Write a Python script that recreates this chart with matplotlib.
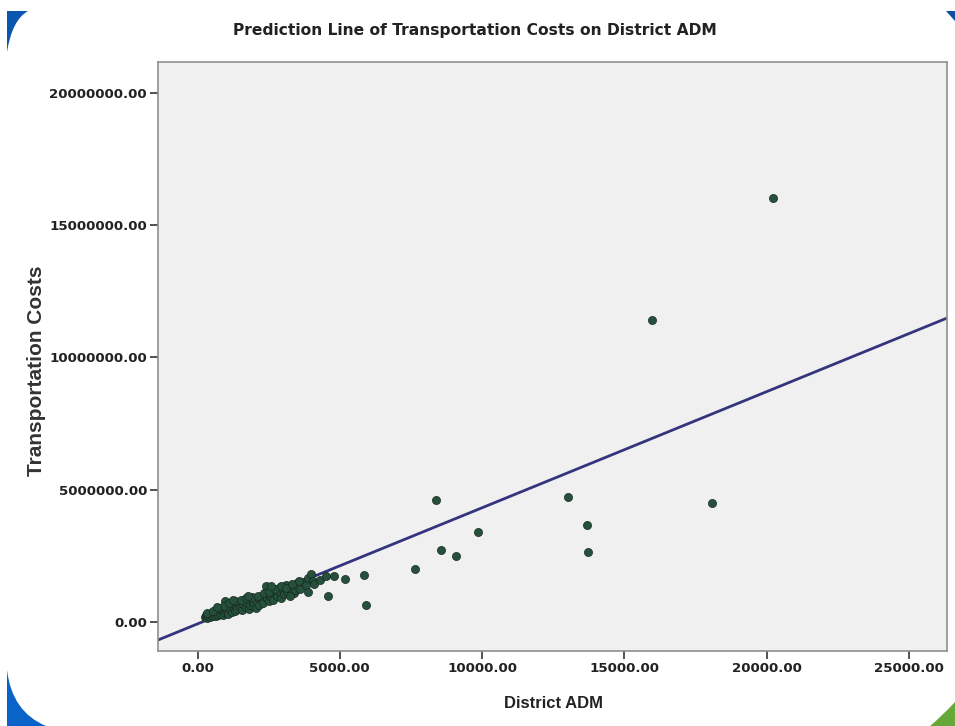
import matplotlib
matplotlib.use("Agg")
import matplotlib.pyplot as plt
from matplotlib.path import Path
from matplotlib.patches import PathPatch

# ---- data ----
district_adm = [
    250, 300, 320, 380, 420, 450, 480, 520, 560, 600, 620, 650, 700, 720, 760, 800,
    820, 850, 880, 900, 950, 980, 1000, 1050, 1080, 1100, 1150, 1200, 1230, 1280,
    1300, 1350, 1400, 1450, 1500, 1550, 1600, 1650, 1700, 1750, 1800, 1850, 1900,
    1950, 2000, 2050, 2100, 2150, 2200, 2250, 2300, 2350, 2400, 2450, 2500, 2550,
    2600, 2650, 2700, 2800, 2850, 2900, 2950, 3000, 3050, 3100, 3150, 3200, 3300,
    3400, 3430, 3490, 3500, 3600, 3700, 3800, 3880, 3900, 4000, 4050, 4100, 4300,
    4500, 4600, 4800, 5183, 5850, 5921, 7642, 8380, 8556, 9083, 9856, 13018, 13686,
    13721, 15970, 18078, 20221,
    350, 550, 750, 930, 1120, 1320, 1520, 1720, 1920, 2120, 2320, 2520, 2720, 2920,
    3120, 3320, 3550, 700, 1250, 1780, 2600, 3250,
]
transport_costs = [
    180e3, 250e3, 150e3, 220e3, 300e3, 200e3, 260e3, 330e3, 240e3, 380e3, 300e3,
    220e3, 350e3, 280e3, 420e3, 300e3, 500e3, 380e3, 260e3, 450e3, 340e3, 780e3,
    550e3, 420e3, 300e3, 600e3, 480e3, 380e3, 700e3, 520e3, 420e3, 620e3, 480e3,
    750e3, 560e3, 450e3, 680e3, 850e3, 560e3, 720e3, 500e3, 640e3, 800e3, 600e3,
    700e3, 540e3, 760e3, 650e3, 900e3, 820e3, 700e3, 1000e3, 1350e3, 900e3, 780e3,
    1100e3, 950e3, 850e3, 1200e3, 1000e3, 1300e3, 1100e3, 900e3, 1250e3, 1050e3,
    1400e3, 1150e3, 1300e3, 1200e3, 1100e3, 1210e3, 1460e3, 1350e3, 1250e3, 1500e3,
    1400e3, 1150e3, 1650e3, 1800e3, 1550e3, 1450e3, 1600e3, 1750e3, 1000e3, 1750e3,
    1630e3, 1780e3, 640e3, 2000e3, 4610e3, 2720e3, 2500e3, 3400e3, 4730e3, 3670e3,
    2650e3, 11420e3, 4500e3, 16030e3,
    330e3, 420e3, 520e3, 600e3, 700e3, 780e3, 820e3, 900e3, 950e3, 1000e3, 1080e3,
    1150e3, 1250e3, 1350e3, 1300e3, 1450e3, 1550e3, 550e3, 850e3, 1000e3, 1350e3,
    1000e3,
]
line_intercept = -71000.0
line_slope = 439.0

x_ticks = [0, 5000, 10000, 15000, 20000, 25000]
x_tick_labels = ["0.00", "5000.00", "10000.00", "15000.00", "20000.00", "25000.00"]
y_ticks = [0, 5000000, 10000000, 15000000, 20000000]
y_tick_labels = ["0.00", "5000000.00", "10000000.00", "15000000.00", "20000000.00"]

title = "Prediction Line of Transportation Costs on District ADM"
x_label = "District ADM"
y_label = "Transportation Costs"

# ---- figure ----
W, H = 955, 726
fig = plt.figure(figsize=(W / 100, H / 100), dpi=100)
fig.patch.set_facecolor("white")

def px(pts):
    return [(x / W, 1 - y / H) for x, y in pts]

def corner(points, codes, color):
    p = Path(px(points), codes)
    fig.add_artist(PathPatch(p, facecolor=color, edgecolor="none",
                             transform=fig.transFigure, zorder=0))

M, L, C3, CL = Path.MOVETO, Path.LINETO, Path.CURVE3, Path.CLOSEPOLY
corner([(7, 11), (28, 11), (12, 20), (7, 52), (7, 11)], [M, L, C3, C3, CL], "#0b56b0")
corner([(946, 11), (955, 11), (955, 21), (946, 11)], [M, L, L, CL], "#0b4f9e")
corner([(7, 670), (12, 712), (46, 726), (7, 726), (7, 670)], [M, C3, C3, L, CL], "#0a63c8")
corner([(955, 702), (940, 718), (930, 726), (955, 726), (955, 702)], [M, C3, C3, L, CL], "#66a83a")

ax = fig.add_axes([158 / W, 1 - 651 / H, 789 / W, 589 / H])
ax.set_facecolor("#f0f0f0")
for s in ax.spines.values():
    s.set_color("#8f8f8f")
    s.set_linewidth(1.2)

ax.set_xlim(-1388, 26335)
ax.set_ylim(-1096000, 21170000)

xs = [ax.get_xlim()[0], ax.get_xlim()[1]]
ax.plot(xs, [line_intercept + line_slope * v for v in xs], color="#34347e",
        linewidth=2.0, zorder=2, solid_capstyle="butt")
ax.scatter(district_adm, transport_costs, s=34, facecolor="#24503c",
           edgecolor="#17291f", linewidth=0.5, zorder=3)

ax.set_xticks(x_ticks)
ax.set_xticklabels(x_tick_labels)
ax.set_yticks(y_ticks)
ax.set_yticklabels(y_tick_labels)
ax.tick_params(axis="both", direction="out", length=6, width=1.2, color="#333333",
               labelsize=9.6, pad=2)
for t in ax.get_xticklabels() + ax.get_yticklabels():
    t.set_fontweight("bold")
    t.set_fontfamily("DejaVu Sans")
    t.set_color("#222222")

fig.text(475 / W, 1 - 31 / H, title, ha="center", va="center", fontsize=11.2,
         fontweight="bold", family="DejaVu Sans", color="#222222")
fig.text(553 / W, 1 - 703 / H, x_label, ha="center", va="center", fontsize=12,
         fontweight="bold", family="Liberation Sans", color="#222222")
fig.text(37 / W, 1 - 371 / H, y_label, ha="center", va="center", rotation=90,
         fontsize=15, fontweight="bold", family="Liberation Sans", color="#333333")

fig.savefig("out.png", dpi=100, facecolor="white")
